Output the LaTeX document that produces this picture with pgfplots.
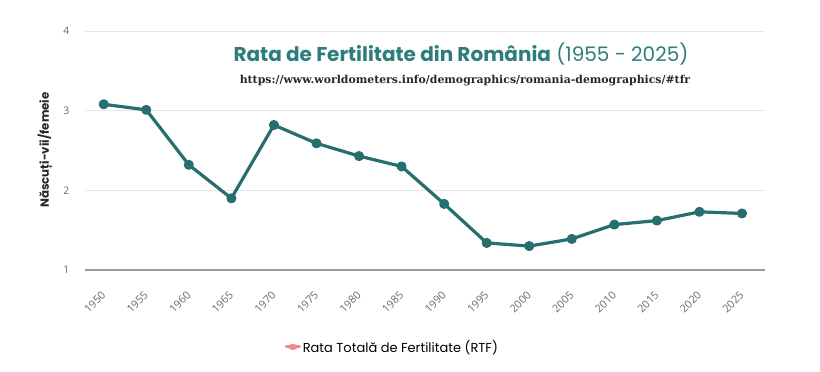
\documentclass[border=0pt]{standalone}
\usepackage{pgfplots}
\pgfplotsset{compat=1.18}
\usepackage{fontspec}
\setmainfont{Open Sans}
\newfontfamily\titlefont{Poppins}
\newfontfamily\urlfont{DejaVu Serif}
\definecolor{lineteal}{HTML}{276E6F}
\definecolor{titleteal}{HTML}{2E7D7D}
\definecolor{legpink}{HTML}{F08A8A}
\definecolor{gridgray}{HTML}{E6E6E6}
\definecolor{tickgray}{HTML}{6A6A6A}
\begin{document}
\begin{tikzpicture}[x=1pt,y=1pt]
\path[use as bounding box] (0,0) rectangle (820,372);
\begin{axis}[
  at={(85pt,102pt)}, anchor=south west,
  scale only axis, width=680pt, height=239pt,
  xmin=1947.8, xmax=2027.7,
  ymin=1, ymax=4,
  ytick={1,2,3,4},
  xtick={1950,1955,...,2025},
  xticklabel style={rotate=45, anchor=north east, inner sep=0pt, font=\fontsize{10.8}{10.8}\selectfont, text=tickgray, xshift=-16.5pt, yshift=-12.3pt},
  yticklabel style={font=\fontsize{10.5}{10.5}\selectfont, text=tickgray, xshift=-12pt},
  /pgf/number format/assume math mode=true,
  /pgf/number format/1000 sep={},
  major tick length=0pt,
  axis lines*=left,
  y axis line style={draw=none},
  x axis line style={draw=gray!80, line width=1.6pt, -},
  ymajorgrids, grid style={gridgray, line width=0.8pt},
  legend style={at={(0.452,-0.322)}, anchor=center, draw=none, fill=none, font=\titlefont\fontsize{13}{13}\selectfont, legend cell align=left},
  legend image code/.code={
    \draw[legpink, line width=3pt, line cap=round] (0pt,0pt) -- (13pt,0pt);
    \fill[legpink] (6.5pt,0pt) ellipse (4.5pt and 2.8pt);
  },
]
\addplot[lineteal, line width=3.2pt, line join=round, mark=*, mark size=3.4pt, mark options={solid, fill=lineteal, draw=none}, forget plot] coordinates {
(1950,3.08) (1955,3.01) (1960,2.32) (1965,1.90) (1970,2.82) (1975,2.59)
(1980,2.43) (1985,2.30) (1990,1.83) (1995,1.34) (2000,1.30) (2005,1.39)
(2010,1.57) (2015,1.62) (2020,1.73) (2025,1.71)
};
\addlegendimage{legpink}
\addlegendentry{Rata Totală de Fertilitate (RTF)}
\end{axis}
\node[rotate=90, font=\titlefont\fontsize{11.8}{11.8}\selectfont\bfseries, text=black!85] at (45,222) {Născuți-vii/femeie};
\node[font=\titlefont\fontsize{20}{20}\selectfont, text=titleteal] at (461,318) {\textbf{Rata de Fertilitate din România} (1955 - 2025)};
\node[font=\urlfont\fontsize{10.9}{11}\selectfont\bfseries, text=black!85] at (465,291) {https://www.worldometers.info/demographics/romania-demographics/\#tfr};
\end{tikzpicture}
\end{document}
